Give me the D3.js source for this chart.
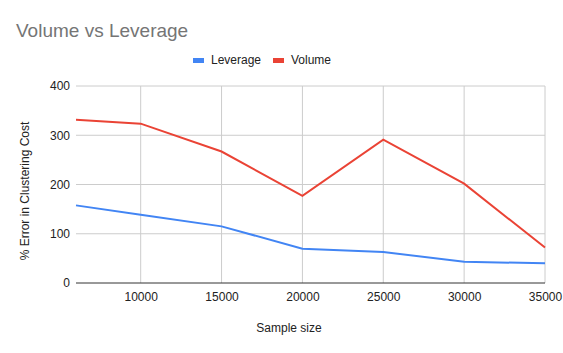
<!DOCTYPE html>
<html>
<head>
<meta charset="utf-8">
<script src="https://cdn.jsdelivr.net/npm/d3@7"></script>
<style>
  body { margin: 0; background: #fff; }
  text { font-family: Arial, "Liberation Sans", sans-serif; }
</style>
</head>
<body>
<div id="chart"></div>
<script>
// Chart data
const sampleSizes = [6000, 10000, 15000, 20000, 25000, 30000, 35000];
const leverage = [157.6, 138.7, 115, 69.6, 63, 43, 40];
const volume = [331.6, 323.5, 267, 177, 291, 201.6, 72];
const xTicks = [10000, 15000, 20000, 25000, 30000, 35000];
const yTicks = [0, 100, 200, 300, 400];

const seriesList = [
    { name: "Leverage", values: leverage, color: "#4285F4" },
    { name: "Volume", values: volume, color: "#EA4335" }
];

const width = 563, height = 353;
const margin = { top: 86, right: 18, bottom: 70, left: 76 };

const svg = d3.select("#chart")
    .append("svg")
    .attr("width", width)
    .attr("height", height);

const x = d3.scaleLinear()
    .domain([sampleSizes[0], 35000])
    .range([margin.left, width - margin.right]);

const y = d3.scaleLinear()
    .domain([0, 400])
    .range([height - margin.bottom, margin.top]);

// Gridlines
svg.append("g")
    .selectAll("line")
    .data(yTicks.filter(d => d > 0))
    .enter()
    .append("line")
    .attr("x1", margin.left)
    .attr("x2", width - margin.right)
    .attr("y1", d => y(d))
    .attr("y2", d => y(d))
    .attr("stroke", "#cccccc");

svg.append("g")
    .selectAll("line")
    .data(xTicks)
    .enter()
    .append("line")
    .attr("x1", d => x(d))
    .attr("x2", d => x(d))
    .attr("y1", margin.top)
    .attr("y2", y(0))
    .attr("stroke", "#cccccc");

// Y axis labels
const yAxis = d3.axisLeft(y).tickValues(yTicks).tickSize(0).tickPadding(6);
svg.append("g")
    .attr("transform", "translate(" + margin.left + ",0)")
    .call(yAxis)
    .call(g => g.select(".domain").remove())
    .selectAll("text")
    .attr("font-size", "12px")
    .attr("fill", "#222");

// X axis labels
const xAxis = d3.axisBottom(x).tickValues(xTicks).tickSize(0).tickPadding(9)
    .tickFormat(d3.format("d"));
svg.append("g")
    .attr("transform", "translate(0," + y(0) + ")")
    .call(xAxis)
    .call(g => g.select(".domain").remove())
    .selectAll("text")
    .attr("font-size", "12px")
    .attr("fill", "#222");

// Baseline
svg.append("line")
    .attr("x1", margin.left)
    .attr("x2", width - margin.right)
    .attr("y1", y(0))
    .attr("y2", y(0))
    .attr("stroke", "#333")
    .attr("stroke-width", 1);

// Lines
const line = d3.line()
    .x((d, i) => x(sampleSizes[i]))
    .y(d => y(d));

seriesList.forEach(s => {
    svg.append("path")
        .datum(s.values)
        .attr("fill", "none")
        .attr("stroke", s.color)
        .attr("stroke-width", 2)
        .attr("d", line);
});

// Title
svg.append("text")
    .attr("x", 16)
    .attr("y", 37)
    .attr("font-size", "19px")
    .attr("fill", "#757575")
    .text("Volume vs Leverage");

// Legend
const legendPos = [193, 273];
seriesList.forEach((s, i) => {
    const g = svg.append("g").attr("transform", "translate(" + legendPos[i] + ",60)");
    g.append("rect")
        .attr("x", 0)
        .attr("y", -2)
        .attr("width", 11)
        .attr("height", 5)
        .attr("fill", s.color);
    g.append("text")
        .attr("x", 18)
        .attr("y", 4)
        .attr("font-size", "12px")
        .attr("fill", "#222")
        .text(s.name);
});

// Axis titles
svg.append("text")
    .attr("x", 289)
    .attr("y", 332)
    .attr("text-anchor", "middle")
    .attr("font-size", "12px")
    .attr("fill", "#222")
    .text("Sample size");

svg.append("text")
    .attr("transform", "translate(29," + 191 + ") rotate(-90)")
    .attr("text-anchor", "middle")
    .attr("font-size", "12px")
    .attr("fill", "#222")
    .text("% Error in Clustering Cost");
</script>
</body>
</html>
